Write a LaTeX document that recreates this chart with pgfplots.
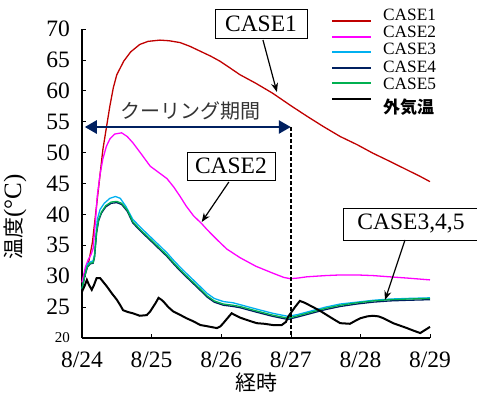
\documentclass[border=0pt]{standalone}
\usepackage{pgfplots}
\pgfplotsset{compat=1.18}
\usetikzlibrary{arrows.meta}
\usepackage{fontspec}
\setmainfont{Liberation Serif}
\newfontfamily\tnr{Liberation Serif}
\newfontfamily\jp{Noto Sans CJK JP}
\definecolor{c1}{HTML}{C00000}
\definecolor{c2}{HTML}{FF00FF}
\definecolor{c3}{HTML}{00B0F0}
\definecolor{c4}{HTML}{002060}
\definecolor{c5}{HTML}{00B050}
\definecolor{navy}{HTML}{002060}
\begin{document}
\begin{tikzpicture}
\useasboundingbox (-82pt,-63pt) rectangle (395pt,338pt);
\begin{axis}[
  at={(0pt,0pt)}, anchor=south west,
  scale only axis, width=348pt, height=309pt,
  xmin=0, xmax=5, ymin=20, ymax=70,
  axis lines=left, axis line style={-, line width=1.2pt},
  tick align=inside, major tick length=4pt,
  tick style={line width=0.6pt, black},
  xtick={0,1,2,3,4,5},
  xticklabels={\textrm{8/24},\textrm{8/25},\textrm{8/26},\textrm{8/27},\textrm{8/28},\textrm{8/29}},
  ytick={20,25,30,35,40,45,50,55,60,65,70},
  yticklabels={{\textrm{\fontsize{15}{15}\selectfont 20}},\textrm{25},\textrm{30},\textrm{35},\textrm{40},\textrm{45},\textrm{50},\textrm{55},\textrm{60},\textrm{65},\textrm{70}},
  tick label style={font=\tnr\fontsize{23.5}{24}\selectfont},
  yticklabel style={inner sep=0pt, xshift=-12pt},
  xticklabel style={inner sep=0pt, yshift=-14pt},
  clip=false,
]
\addplot[c1, line width=1.3pt] coordinates {
(0.00,29.0)(0.05,31.0)(0.10,32.5)(0.15,35.5)(0.20,40.5)(0.25,45.5)(0.30,50.5)(0.35,54.0)
(0.40,57.5)(0.45,60.5)(0.50,62.6)(0.60,64.8)(0.70,66.3)(0.83,67.5)(0.95,68.0)(1.12,68.2)
(1.25,68.1)(1.41,67.8)(1.55,67.2)(1.70,66.4)(1.85,65.6)(1.98,64.8)(2.10,63.9)(2.27,62.6)
(2.50,61.2)(2.74,59.6)(3.00,57.6)(3.23,55.9)(3.47,54.2)(3.71,52.6)(3.95,51.3)(4.18,49.9)
(4.42,48.6)(4.67,47.2)(4.85,46.2)(5.00,45.3)};
\addplot[c2, line width=1.3pt] coordinates {
(0.00,29.0)(0.05,31.5)(0.09,32.7)(0.13,33.5)(0.16,34.5)(0.19,38.5)(0.22,43.0)(0.26,46.5)
(0.30,49.0)(0.35,51.0)(0.40,52.2)(0.47,53.0)(0.57,53.2)(0.65,52.6)(0.73,51.6)(0.85,49.8)
(0.98,47.8)(1.10,46.8)(1.22,45.8)(1.32,44.4)(1.41,42.9)(1.50,41.3)(1.60,39.8)(1.72,38.5)
(1.80,37.5)(1.95,35.8)(2.08,34.4)(2.27,33.0)(2.50,31.6)(2.74,30.5)(2.90,29.8)(2.99,29.6)
(3.10,29.7)(3.23,29.9)(3.50,30.1)(3.71,30.2)(3.95,30.2)(4.18,30.1)(4.42,29.9)(4.67,29.7)
(5.00,29.4)};
\addplot[c3, line width=1.3pt] coordinates {
(0.00,28.0)(0.04,30.0)(0.08,32.0)(0.12,32.3)(0.16,32.5)(0.18,33.5)(0.20,36.5)(0.22,39.2)
(0.26,40.8)(0.32,41.8)(0.40,42.6)(0.48,42.9)(0.55,42.6)(0.63,41.3)(0.73,39.2)(0.85,37.8)
(0.98,36.4)(1.10,35.1)(1.22,33.8)(1.33,32.4)(1.45,31.0)(1.58,29.6)(1.70,28.3)(1.80,27.2)
(1.90,26.4)(2.03,25.9)(2.17,25.7)(2.27,25.4)(2.50,24.7)(2.74,24.0)(2.96,23.5)(3.10,23.8)
(3.30,24.4)(3.50,25.0)(3.71,25.5)(3.95,25.8)(4.18,26.1)(4.42,26.3)(4.67,26.4)(5.00,26.5)};
\addplot[c4, line width=1.3pt] coordinates {
(0.00,27.8)(0.04,30.0)(0.08,31.5)(0.12,32.0)(0.16,32.1)(0.18,33.0)(0.21,37.0)(0.24,39.0)
(0.28,40.2)(0.34,41.2)(0.42,41.8)(0.50,41.9)(0.57,41.6)(0.65,40.5)(0.73,38.6)(0.85,37.2)
(0.98,35.8)(1.10,34.5)(1.22,33.2)(1.33,31.8)(1.45,30.4)(1.58,29.0)(1.70,27.7)(1.80,26.6)
(1.90,25.8)(2.03,25.3)(2.17,25.1)(2.27,24.9)(2.50,24.2)(2.74,23.5)(2.96,23.0)(3.10,23.4)
(3.30,24.0)(3.50,24.6)(3.71,25.1)(3.95,25.5)(4.18,25.8)(4.42,26.0)(4.67,26.1)(5.00,26.2)};
\addplot[c5, line width=1.3pt] coordinates {
(0.00,27.9)(0.04,30.1)(0.08,31.6)(0.12,32.1)(0.16,32.2)(0.18,33.2)(0.21,37.2)(0.24,39.2)
(0.28,40.4)(0.34,41.4)(0.42,42.0)(0.50,42.1)(0.57,41.8)(0.65,40.7)(0.73,38.8)(0.85,37.4)
(0.98,36.0)(1.10,34.7)(1.22,33.4)(1.33,32.0)(1.45,30.6)(1.58,29.2)(1.70,27.9)(1.80,26.8)
(1.90,26.0)(2.03,25.5)(2.17,25.3)(2.27,25.1)(2.50,24.4)(2.74,23.7)(2.96,23.2)(3.10,23.6)
(3.30,24.2)(3.50,24.8)(3.71,25.3)(3.95,25.7)(4.18,26.0)(4.42,26.2)(4.67,26.3)(5.00,26.4)};
\addplot[black, line width=2pt] coordinates {
(0.00,27.5)(0.04,28.5)(0.07,29.4)(0.10,28.6)(0.14,27.8)(0.17,28.5)(0.21,29.7)(0.26,29.7)
(0.31,29.0)(0.36,28.3)(0.43,27.2)(0.50,26.2)(0.55,25.3)(0.59,24.5)(0.66,24.2)(0.73,24.0)
(0.83,23.6)(0.93,23.7)(0.98,24.3)(1.02,25.0)(1.06,25.7)(1.10,26.5)(1.14,26.2)(1.17,25.9)
(1.24,25.0)(1.31,24.3)(1.40,23.8)(1.50,23.2)(1.60,22.7)(1.70,22.1)(1.80,21.9)(1.94,21.6)
(1.99,21.9)(2.03,22.4)(2.09,23.2)(2.15,24.0)(2.20,23.7)(2.27,23.3)(2.40,22.8)(2.51,22.4)
(2.62,22.3)(2.74,22.1)(2.87,22.1)(2.93,22.6)(2.96,23.4)(3.01,24.2)(3.06,25.0)(3.13,26.0)
(3.20,25.7)(3.32,25.0)(3.42,24.4)(3.52,23.7)(3.62,23.0)(3.71,22.4)(3.85,22.3)(3.93,22.8)
(4.00,23.2)(4.10,23.5)(4.18,23.6)(4.26,23.5)(4.33,23.2)(4.40,22.8)(4.47,22.4)(4.57,22.0)
(4.67,21.6)(4.76,21.2)(4.86,20.8)(4.93,21.3)(5.00,21.8)};
% legend (drawn as key)
\draw[c1, line width=1.8pt] (rel axis cs:0.7184,1.0269) -- (rel axis cs:0.8305,1.0269);
\draw[c2, line width=1.8pt] (rel axis cs:0.7184,0.9751) -- (rel axis cs:0.8305,0.9751);
\draw[c3, line width=1.8pt] (rel axis cs:0.7184,0.9246) -- (rel axis cs:0.8305,0.9246);
\draw[c4, line width=1.8pt] (rel axis cs:0.7184,0.8728) -- (rel axis cs:0.8305,0.8728);
\draw[c5, line width=1.8pt] (rel axis cs:0.7184,0.8243) -- (rel axis cs:0.8305,0.8243);
\draw[black, line width=1.8pt] (rel axis cs:0.7184,0.7725) -- (rel axis cs:0.8305,0.7725);
\begin{scope}[every node/.style={anchor=base west, inner sep=0pt, font=\tnr\fontsize{17.3}{17}\selectfont}]
\node at (rel axis cs:0.8649,1.0269) {CASE1};
\node at (rel axis cs:0.8649,0.9725) {CASE2};
\node at (rel axis cs:0.8649,0.9159) {CASE3};
\node at (rel axis cs:0.8649,0.8608) {CASE4};
\node at (rel axis cs:0.8649,0.8026) {CASE5};
\end{scope}
\node[anchor=west, inner sep=0pt, font=\jp\bfseries\fontsize{17}{17}\selectfont] at (rel axis cs:0.8649,0.7460) {外気温};
% annotations
\draw[navy, line width=2.6pt, {Triangle[length=12pt,width=13pt]}-{Triangle[length=12pt,width=13pt]}]
  (axis cs:0.04,54.14) -- (axis cs:3.0,54.14);
\draw[black, line width=1.5pt, dash pattern=on 4pt off 2pt] (axis cs:3.0,54.14) -- (axis cs:3.0,20);
\node[font=\jp\fontsize{20}{20}\selectfont, text=black!80] at (axis cs:1.566,56.73) {クーリング期間};
\node[draw, fill=white, line width=0.6pt, minimum width=92pt, minimum height=29pt, inner sep=0pt,
  font=\tnr\fontsize{23.5}{24}\selectfont] at (axis cs:2.572,70.81) {CASE1};
\draw[-{Stealth[length=9pt,width=7pt]}, line width=1.2pt] (axis cs:2.60,68.22) -- (axis cs:2.80,59.81);
\node[draw, fill=white, line width=0.6pt, minimum width=88pt, minimum height=28pt, inner sep=0pt,
  font=\tnr\fontsize{23.5}{24}\selectfont] at (axis cs:2.14,47.83) {CASE2};
\draw[-{Stealth[length=9pt,width=7pt]}, line width=1.2pt] (axis cs:2.11,45.24) -- (axis cs:1.72,38.77);
\node[draw, fill=white, line width=0.6pt, minimum width=136pt, minimum height=32pt, inner sep=0pt,
  font=\tnr\fontsize{23.5}{24}\selectfont] at (axis cs:4.727,38.45) {CASE3,4,5};
\draw[-{Stealth[length=9pt,width=7pt]}, line width=1.2pt] (axis cs:4.641,35.86) -- (axis cs:4.353,26.15);
\node[font=\jp\fontsize{21}{21}\selectfont] at (axis cs:2.514,12.72) {経時};
\node[font=\tnr\fontsize{25}{25}\selectfont, rotate=90] at (axis cs:-0.963,39.6) {{\jp\fontsize{21}{21}\selectfont 温度}(°C)};
\end{axis}
\end{tikzpicture}
\end{document}
